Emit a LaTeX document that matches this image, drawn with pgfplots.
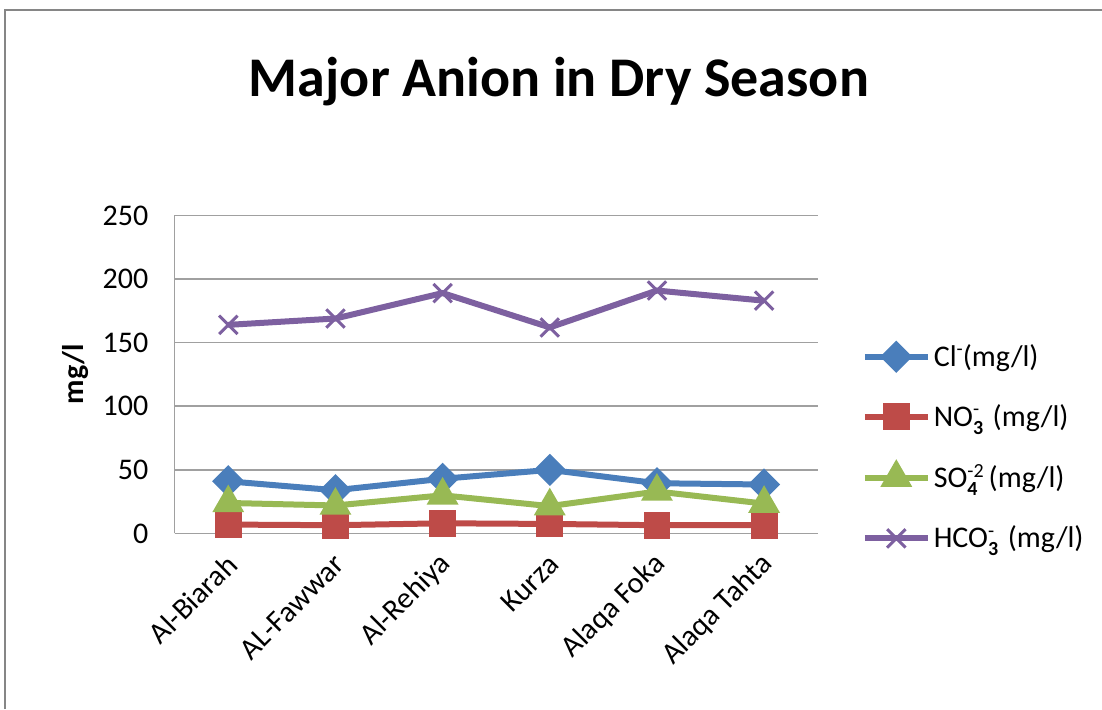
\documentclass[border=0pt]{standalone}
\usepackage{pgfplots}
\pgfplotsset{compat=1.18}
\usepackage{fontspec}
\setmainfont{Carlito}

\definecolor{clblue}{HTML}{4A7EBB}
\definecolor{nored}{HTML}{BE4B48}
\definecolor{sogreen}{HTML}{98B954}
\definecolor{hcpurple}{HTML}{7D60A0}
\definecolor{gridgray}{HTML}{A0A0A0}
\definecolor{framegray}{HTML}{868686}

% stacked subscript/superscript for ion formulas
\newcommand\ion[2]{\makebox[0pt][l]{\raisebox{-0.55ex}{\fontsize{10}{10}\selectfont\bfseries #1}}\raisebox{0.75ex}{\fontsize{10}{10}\selectfont #2}}

\begin{document}
\begin{tikzpicture}[x=0.5pt,y=0.5pt]
\useasboundingbox (0,0) rectangle (1102,709);
% chart area border
\draw[framegray, line width=1pt] (5,0) -- (5,699) -- (1102,699);
% title
\node[anchor=base, font=\fontsize{28}{32}\selectfont\bfseries] at (559,613) {Major Anion in Dry Season};

\begin{axis}[
  at={(163,138)}, anchor=south west,
  scale only axis,
  width=321.5pt, height=159pt,
  xmin=-0.5, xmax=5.5,
  ymin=0, ymax=250,
  ytick={0,50,...,250},
  xtick={0,...,5},
  xticklabels={Al-Biarah, AL-Fawwar, Al-Rehiya, Kurza, Alaqa Foka, Alaqa Tahta},
  axis x line*=bottom, axis y line*=left,
  axis line style={gridgray, line width=0.8pt},
  major tick length=0pt,
  ymajorgrids, grid style={gridgray, line width=0.8pt},
  tick label style={font=\fontsize{15}{18}\selectfont},
  yticklabel style={anchor=east, inner sep=0pt, xshift=-13pt},
  xticklabel style={anchor=east, inner sep=0pt, xshift=2pt, yshift=-13pt, rotate=45},
  /pgf/number format/assume math mode=true,
  ylabel={\textbf{mg/l}},
  ylabel style={at={(axis description cs:-0.155,0.50)}, anchor=center, font=\fontsize{15}{18}\selectfont},
  legend style={at={(axis description cs:1.068,0.27)}, anchor=west, draw=none, fill=none,
    inner sep=0pt, row sep=14.5pt, font=\fontsize{15}{18}\selectfont,
    nodes={inner sep=1.5pt, anchor=west}},
  legend cell align=left,
  legend image code/.code={\draw[mark repeat=2,mark phase=2] plot coordinates {(0pt,0pt) (15.75pt,0pt) (31.5pt,0pt)};},
  every axis plot/.append style={line width=3pt},
  clip=false,
]
% chloride
\addplot[clblue, mark=square*, mark size=4.2pt, mark options={rotate=45, solid}]
  coordinates {(0,41) (1,34) (2,43) (3,50) (4,39.5) (5,38.5)};
\addlegendentry{Cl\ion{}{-}(mg/l)}
% nitrate
\addplot[nored, mark=square*, mark size=5.2pt]
  coordinates {(0,7) (1,6.5) (2,8) (3,7.5) (4,6.5) (5,6.5)};
\addlegendentry{NO\ion{3}{-}\ \ (mg/l)}
% sulphate
\addplot[sogreen, mark=triangle*, mark size=6.2pt]
  coordinates {(0,24) (1,22) (2,30) (3,21.5) (4,33) (5,23.5)};
\addlegendentry{SO\ion{4}{-2}\,(mg/l)}
% bicarbonate
\addplot[hcpurple, mark=x, mark size=6.5pt, mark options={line width=1.5pt}]
  coordinates {(0,164) (1,169) (2,189) (3,162) (4,191) (5,183)};
\addlegendentry{HCO\ion{3}{-}\ \ (mg/l)}
\end{axis}
\end{tikzpicture}
\end{document}
